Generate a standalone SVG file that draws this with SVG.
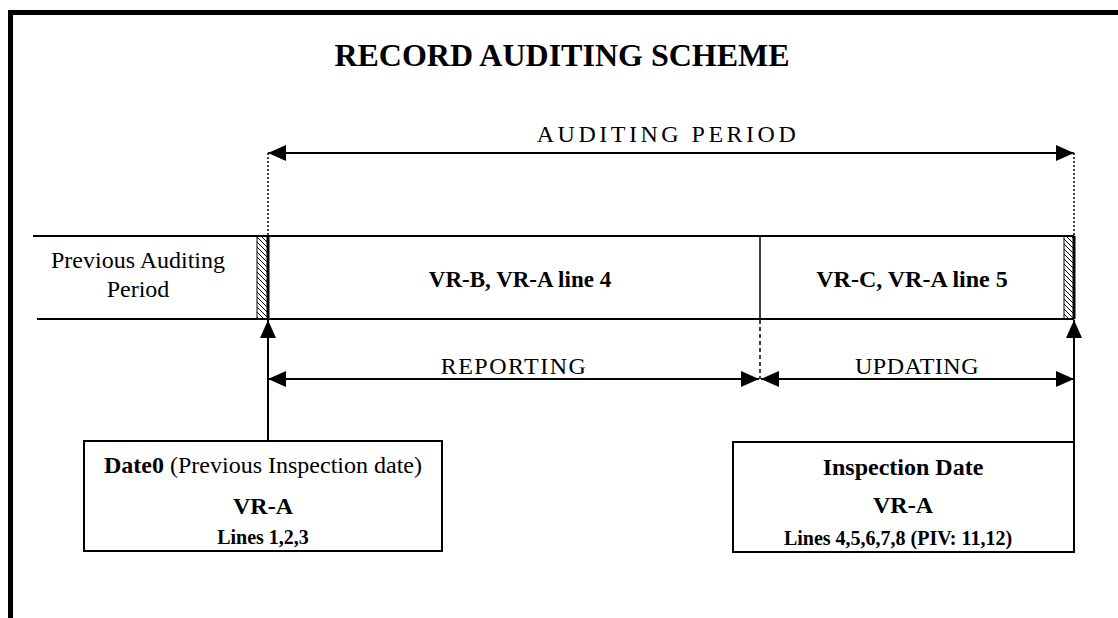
<svg xmlns="http://www.w3.org/2000/svg" width="1118" height="618" viewBox="0 0 1118 618">
  <style>
    .t { font-family: "Liberation Serif", "Times New Roman", serif; fill: #000; text-anchor: middle; }
    .b { font-weight: bold; }
    .ln { stroke: #000; stroke-width: 2; fill: none; }
    .box { stroke: #000; stroke-width: 2; fill: #fff; }
    .dot { stroke: #000; stroke-width: 1.5; stroke-dasharray: 2 2; fill: none; }
    .dash { stroke: #000; stroke-width: 1.5; stroke-dasharray: 4 3; fill: none; }
    .arr { stroke: #000; stroke-width: 2; fill: none; marker-end: url(#ah); }
    .arr2 { stroke: #000; stroke-width: 2; fill: none; marker-start: url(#ah); marker-end: url(#ah); }
  </style>
  <defs>
    <marker id="ah" viewBox="0 0 18 16" refX="18" refY="8" markerWidth="18" markerHeight="16" markerUnits="userSpaceOnUse" orient="auto-start-reverse">
      <path d="M0,0 L18,8 L0,16 z" fill="#000"/>
    </marker>
    <pattern id="hatch" patternUnits="userSpaceOnUse" width="5" height="5">
      <path d="M0,0 L5,5 M-1,4 L1,6 M4,-1 L6,1" stroke="#000" stroke-width="1"/>
    </pattern>
  </defs>
  <rect x="0" y="0" width="1118" height="618" fill="#fff"/>
  <path d="M10.5,618 V12.5 H1118" stroke="#000" stroke-width="5" fill="none" stroke-linejoin="miter"/>

  <g id="title">
    <text class="t b" x="562" y="66" font-size="32">RECORD AUDITING SCHEME</text>
  </g>

  <g id="band">
    <line class="ln" x1="33" y1="236" x2="1074" y2="236"/>
    <line class="ln" x1="37" y1="319" x2="1074" y2="319"/>
    <line x1="760" y1="236" x2="760" y2="319" stroke="#000" stroke-width="1.5"/>
    <rect x="257" y="236" width="11" height="83" fill="url(#hatch)" stroke="#000" stroke-width="1"/>
    <line x1="268" y1="236" x2="268" y2="319" stroke="#000" stroke-width="3"/>
    <rect x="1064" y="236" width="10" height="83" fill="url(#hatch)" stroke="#000" stroke-width="1"/>
    <line x1="1074" y1="236" x2="1074" y2="319" stroke="#000" stroke-width="3"/>
  </g>

  <g id="prev-period">
    <text class="t" x="138" y="268" font-size="24">Previous Auditing</text>
    <text class="t" x="138" y="297" font-size="24">Period</text>
  </g>
  <g id="vrb">
    <text class="t b" x="520" y="287" font-size="23">VR-B, VR-A line 4</text>
  </g>
  <g id="vrc">
    <text class="t b" x="912" y="287" font-size="24">VR-C, VR-A line 5</text>
  </g>

  <g id="connectors">
    <line class="arr2" x1="268" y1="153" x2="1074" y2="153"/>
    <line class="dot" x1="268" y1="153" x2="268" y2="236"/>
    <line class="dot" x1="1074" y1="153" x2="1074" y2="236"/>
    <line class="arr2" x1="268" y1="379" x2="759" y2="379"/>
    <line class="arr2" x1="761" y1="379" x2="1074" y2="379"/>
    <line class="dash" x1="760" y1="320" x2="760" y2="379"/>
    <line class="arr" x1="268" y1="441" x2="268" y2="320"/>
    <line class="arr" x1="1074" y1="442" x2="1074" y2="320"/>
  </g>

  <g id="labels">
    <text class="t" x="668" y="142" font-size="24" letter-spacing="3.5">AUDITING PERIOD</text>
    <text class="t" x="514" y="374" font-size="24" letter-spacing="1.5">REPORTING</text>
    <text class="t" x="917" y="374" font-size="24" letter-spacing="0.5">UPDATING</text>
  </g>

  <g id="date0">
    <rect class="box" x="84" y="441" width="358" height="110"/>
    <text class="t" x="263" y="473" font-size="24"><tspan class="b">Date0</tspan> (Previous Inspection date)</text>
    <text class="t b" x="263" y="514" font-size="24">VR-A</text>
    <text class="t b" x="263" y="544" font-size="20">Lines 1,2,3</text>
  </g>

  <g id="inspection">
    <rect class="box" x="733" y="442" width="341" height="110"/>
    <text class="t b" x="903" y="475" font-size="24">Inspection Date</text>
    <text class="t b" x="903" y="513" font-size="24">VR-A</text>
    <text class="t b" x="898" y="545" font-size="20">Lines 4,5,6,7,8 (PIV: 11,12)</text>
  </g>
</svg>
